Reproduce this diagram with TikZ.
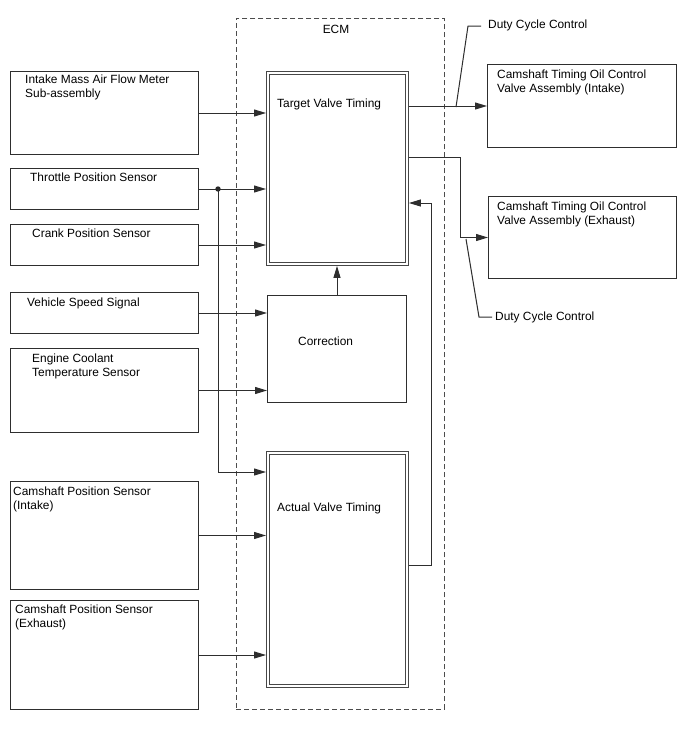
\documentclass[tikz,border=0pt]{standalone}
\usepackage{fontspec}
\setmainfont{Liberation Sans}
\usetikzlibrary{arrows.meta,calc}
\begin{document}
\begin{tikzpicture}[x=1pt,y=-1pt,
  font=\fontsize{11.9}{14}\selectfont,
  ln/.style={draw=black!82, line width=1pt},
  arr/.style={ln, -{Triangle[length=12pt,width=7pt]}},
  box/.style={ln, rectangle, inner sep=0pt, anchor=north west},
  dbox/.style={draw=black!72, line width=0.9pt, rectangle, inner sep=0pt, anchor=north west},
  inner/.style={draw=black!72, line width=0.9pt},
  txt/.style={inner sep=0pt, anchor=north west, align=left, text=black},
  ecmbox/.style={draw=black!70, line width=0.9pt, dash pattern=on 5pt off 3pt, rectangle, inner sep=0pt, anchor=north west}
]
\useasboundingbox (0,0) rectangle (688,755);
\fill[white] (0,0) rectangle (688,755);

% ECM boundary
\node[ecmbox, minimum width=208pt, minimum height=691pt] (ecm) at (236,18) {};
\node[inner sep=0pt, anchor=north] (ecmlbl) at (336,25) {ECM};

% left input boxes
\node[box, minimum width=188pt, minimum height=83pt] (maf) at (10,71) {};
\node[box, minimum width=188pt, minimum height=41pt] (tps) at (10,168) {};
\node[box, minimum width=188pt, minimum height=41pt] (cps) at (10,224) {};
\node[box, minimum width=188pt, minimum height=41pt] (vss) at (10,292) {};
\node[box, minimum width=188pt, minimum height=84pt] (ect) at (10,348) {};
\node[box, minimum width=188pt, minimum height=108pt] (cmi) at (10,481) {};
\node[box, minimum width=188pt, minimum height=109pt] (cme) at (10,600) {};

\node[txt] (tmaf) at (25,75) {Intake Mass Air Flow Meter\\Sub-assembly};
\node[txt] (ttps) at (30,173) {Throttle Position Sensor};
\node[txt] (tcps) at (32,229) {Crank Position Sensor};
\node[txt] (tvss) at (27,298) {Vehicle Speed Signal};
\node[txt] (tect) at (32,354) {Engine Coolant\\Temperature Sensor};
\node[txt] (tcmi) at (13,487) {Camshaft Position Sensor\\(Intake)};
\node[txt] (tcme) at (15,605) {Camshaft Position Sensor\\(Exhaust)};

% ECM internal boxes (double border)
\node[dbox, minimum width=142pt, minimum height=194pt] (tvt) at (266,71) {};
\draw[inner] ($(tvt.north west)+(3.6,3.6)$) rectangle ($(tvt.south east)+(-3.6,-3.6)$);
\node[box, minimum width=139pt, minimum height=107pt] (cor) at (267,295) {};
\node[dbox, minimum width=142pt, minimum height=236pt] (avt) at (266,451) {};
\draw[inner] ($(avt.north west)+(3.6,3.6)$) rectangle ($(avt.south east)+(-3.6,-3.6)$);

\node[txt] (ttvt) at (277,99) {Target Valve Timing};
\node[txt] (tcor) at (298,337) {Correction};
\node[txt] (tavt) at (277,503) {Actual Valve Timing};

% output boxes
\node[box, minimum width=189pt, minimum height=83pt] (ocvi) at (487,64) {};
\node[box, minimum width=188pt, minimum height=82pt] (ocve) at (488,196) {};
\node[txt] (tocvi) at (497,70) {Camshaft Timing Oil Control\\Valve Assembly (Intake)};
\node[txt] (tocve) at (497,202) {Camshaft Timing Oil Control\\Valve Assembly (Exhaust)};

% input connectors
\draw[arr] (maf.east) -- (maf.east -| tvt.west);
\draw[arr] (tps.east) -- (tps.east -| tvt.west);
\draw[arr] (cps.east) -- (cps.east -| tvt.west);
\draw[arr] (vss.east) -- (vss.east -| cor.west);
\draw[arr] (ect.east) -- (ect.east -| cor.west);
\draw[arr] (cmi.east) -- (cmi.east -| avt.west);
\draw[arr] (cme.east) -- (cme.east -| avt.west);

% throttle branch
\coordinate (jn) at (218,0 |- tps.east);
\coordinate (jb) at (218,472);
\fill[black!85] (jn) circle (2.7pt);
\draw[arr] (jn) -- (jb) -- (jb -| avt.west);

% correction to target
\draw[arr] (cor.north) -- (cor.north |- tvt.south);

% feedback
\coordinate (fb1) at (431,565);
\coordinate (fb2) at (431,203);
\draw[arr] (fb1 -| avt.east) -- (fb1) -- (fb2) -- (fb2 -| tvt.east);

% outputs
\draw[arr] (ocvi.west -| tvt.east) -- (ocvi.west);
\coordinate (ex1) at (460,157);
\coordinate (ex2) at (460,0 |- ocve.west);
\draw[arr] (ex1 -| tvt.east) -- (ex1) -- (ex2) -- (ocve.west);

% duty cycle labels
\node[txt] (dc1) at (488,20) {Duty Cycle Control};
\node[txt] (dc2) at (495,312) {Duty Cycle Control};
\coordinate (d1a) at (481,26);
\coordinate (d1b) at (468,26);
\coordinate (d1c) at (456,107);
\draw[ln] (d1a) -- (d1b) -- (d1c);
\coordinate (d2a) at (466,239);
\coordinate (d2b) at (479,317);
\coordinate (d2c) at (492,317);
\draw[ln] (d2a) -- (d2b) -- (d2c);
\end{tikzpicture}
\end{document}
